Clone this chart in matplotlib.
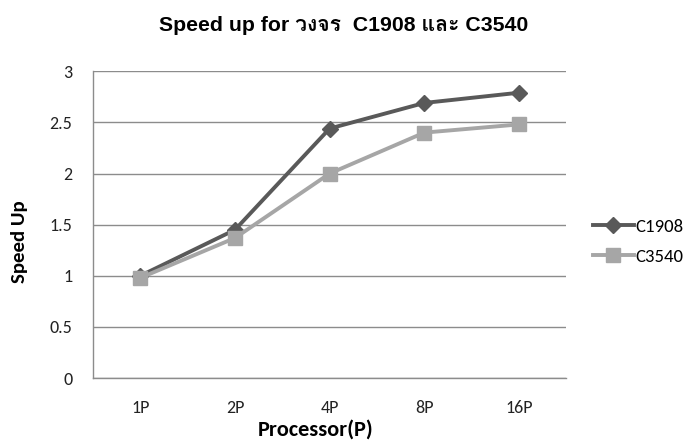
import matplotlib
matplotlib.use("Agg")
import matplotlib.pyplot as plt

# ข้อมูลจากกราฟ
processors = ['1P', '2P', '4P', '8P', '16P']
c1908 = [1.0, 1.45, 2.44, 2.69, 2.79]
c3540 = [0.98, 1.37, 2.0, 2.40, 2.48]
y_ticks = [0, 0.5, 1, 1.5, 2, 2.5, 3]
y_tick_labels = ['0', '0.5', '1', '1.5', '2', '2.5', '3']

calibri = ['Carlito', 'Lato']
title_font = ['Liberation Sans', 'Loma', 'Garuda', 'Noto Sans Thai Looped', 'Krub',
              'Thasadith', 'Noto Sans Thai']

fig = plt.figure(figsize=(6.94, 4.48), dpi=100)
ax = fig.add_axes([0.134, 0.156, 0.682, 0.685])

x = range(len(processors))
ax.plot(x, c1908, color='#595959', linewidth=2.8, marker='D', markersize=8, label='C1908')
ax.plot(x, c3540, color='#a6a6a6', linewidth=2.8, marker='s', markersize=10, label='C3540')

ax.set_xlim(-0.5, len(processors) - 0.5)
ax.set_ylim(0, 3)
ax.set_yticks(y_ticks)
ax.set_yticklabels(y_tick_labels, family=calibri, fontsize=13, color='#222222')
ax.set_xticks(list(x))
ax.set_xticklabels(processors, family=calibri, fontsize=13, color='#222222')
ax.tick_params(axis='y', length=0, pad=15)
ax.tick_params(axis='x', length=0, pad=16)

ax.grid(axis='y', color='#8c8c8c', linewidth=1)
ax.set_axisbelow(True)
for side in ['top', 'right']:
    ax.spines[side].set_visible(False)
for side in ['left', 'bottom']:
    ax.spines[side].set_color('#8c8c8c')
    ax.spines[side].set_linewidth(1)

# ชื่อแกน วางตำแหน่งเองให้ตรงกับภาพ
ax.set_xlabel('Processor(P)', family=calibri, fontsize=16, fontweight='bold')
ax.xaxis.set_label_coords(0.471, -0.135)
ax.set_ylabel('Speed Up', family=calibri, fontsize=15, fontweight='bold')
ax.yaxis.set_label_coords(-0.137, 0.446)

fig.suptitle('Speed up for วงจร  C1908 และ C3540', family=title_font, fontsize=15.3,
             fontweight='bold', x=0.495, y=0.965)

leg = ax.legend(loc='center left', bbox_to_anchor=(1.02, 0.445), frameon=False,
                prop={'family': calibri, 'size': 13.5}, handlelength=2.2,
                handletextpad=0.1, labelspacing=0.75)

fig.savefig('out.png', dpi=100)
